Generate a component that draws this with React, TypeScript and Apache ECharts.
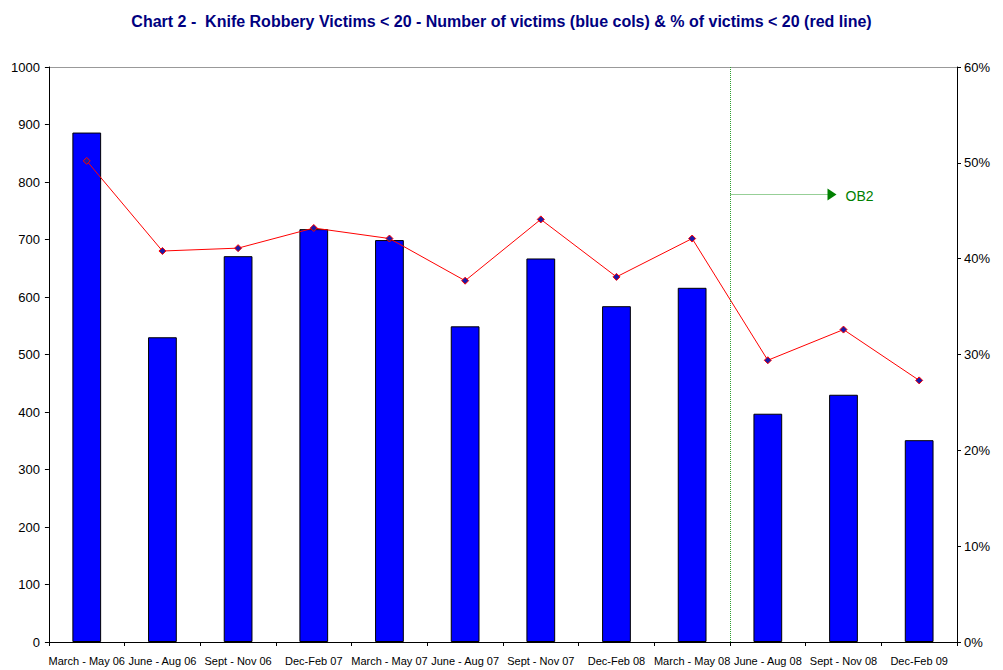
import React, { useEffect, useRef } from "react";
import * as echarts from "echarts";

const categories = [
  "March - May 06", "June - Aug 06", "Sept - Nov 06", "Dec-Feb 07",
  "March - May 07", "June - Aug 07", "Sept - Nov 07", "Dec-Feb 08",
  "March - May 08", "June - Aug 08", "Sept - Nov 08", "Dec-Feb 09",
];
const victims = [886, 530, 671, 718, 699, 549, 667, 584, 616, 397, 430, 351];
const pctUnder20 = [50.2, 40.8, 41.1, 43.2, 42.1, 37.7, 44.1, 38.1, 42.1, 29.4, 32.6, 27.3];
const ob2Label = "OB2";
const ob2Index = 9;

export default function App() {
  const ref = useRef<HTMLDivElement>(null);
  useEffect(() => {
    if (!ref.current) return;
    const chart = echarts.init(ref.current, null, { renderer: "svg" });
    const font = "'Liberation Sans', Arial, sans-serif";
    const splitColors = new Array(10).fill("transparent").concat(["#999999"]);
    chart.setOption({
      animation: false,
      backgroundColor: "#ffffff",
      title: {
        text: "Chart 2 -  Knife Robbery Victims < 20 - Number of victims (blue cols) & % of victims < 20 (red line)",
        left: "center",
        top: 0,
        textStyle: { color: "#000080", fontSize: 16, fontWeight: "bold", fontFamily: font },
      },
      grid: { left: 38, right: 38, top: 59, bottom: 28 },
      xAxis: {
        type: "category",
        data: categories,
        boundaryGap: true,
        axisLine: { lineStyle: { color: "#000", width: 1 } },
        axisTick: { show: true, length: 4, lineStyle: { color: "#000" } },
        axisLabel: { color: "#000", fontSize: 11, fontFamily: font, interval: 0, margin: 13 },
      },
      yAxis: [
        {
          type: "value",
          min: 0,
          max: 1000,
          interval: 100,
          axisLine: { show: true, lineStyle: { color: "#000" } },
          axisTick: { show: true, length: 4, lineStyle: { color: "#000" } },
          axisLabel: { color: "#000", fontSize: 13, fontFamily: font, margin: 9, formatter: (v: number) => String(v) },
          splitLine: { show: true, lineStyle: { color: splitColors, width: 1 } },
        },
        {
          type: "value",
          min: 0,
          max: 60,
          interval: 10,
          axisLine: { show: true, lineStyle: { color: "#000" } },
          axisTick: { show: true, length: 4, lineStyle: { color: "#000" } },
          axisLabel: { color: "#000", fontSize: 13, fontFamily: font, formatter: "{value}%", margin: 7 },
          splitLine: { show: false },
        },
      ],
      series: [
        {
          type: "bar",
          data: victims,
          barWidth: "38%",
          itemStyle: { color: "#0000ff", borderColor: "#000", borderWidth: 1 },
          yAxisIndex: 0,
        },
        {
          type: "line",
          data: pctUnder20,
          yAxisIndex: 1,
          symbol: "diamond",
          symbolSize: 7,
          lineStyle: { color: "#ff0000", width: 1 },
          itemStyle: { color: "#1a1aa8", borderColor: "#ff0000", borderWidth: 1 },
        },
      ],
    });
    const p8 = chart.convertToPixel({ xAxisIndex: 0 }, ob2Index - 1) as number;
    const p9 = chart.convertToPixel({ xAxisIndex: 0 }, ob2Index) as number;
    const lx = Math.round((p8 + p9) / 2) + 0.5;
    const yTop = chart.convertToPixel({ yAxisIndex: 0 }, 1000) as number;
    const yBot = chart.convertToPixel({ yAxisIndex: 0 }, 0) as number;
    const ay = Math.round(chart.convertToPixel({ yAxisIndex: 0 }, 780) as number) + 0.5;
    const green = "#008000";
    chart.setOption({
      graphic: [
        { type: "line", shape: { x1: lx, y1: yTop, x2: lx, y2: yBot }, style: { stroke: "#2e9e2e", lineWidth: 1, lineDash: [1, 1] }, z: 10 },
        { type: "line", shape: { x1: lx, y1: ay, x2: lx + 97, y2: ay }, style: { stroke: "#2e9e2e", lineWidth: 1, lineDash: [1, 1] }, z: 10 },
        { type: "polygon", shape: { points: [[lx + 97, ay - 6], [lx + 106, ay], [lx + 97, ay + 6]] }, style: { fill: green }, z: 10 },
        { type: "text", x: lx + 115, y: ay + 1, style: { text: ob2Label, fill: green, fontSize: 14, fontFamily: font, verticalAlign: "middle" }, z: 10 },
      ],
    });
    return () => chart.dispose();
  }, []);
  return <div ref={ref} style={{ width: 987, height: 662 }} />;
}
